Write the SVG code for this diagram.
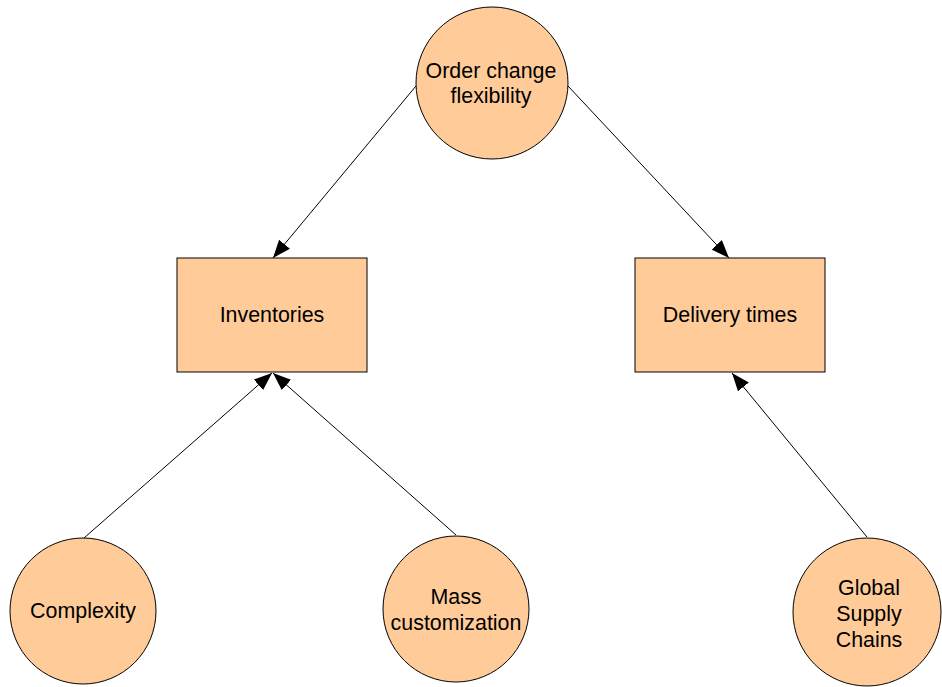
<svg xmlns="http://www.w3.org/2000/svg" width="942" height="687" viewBox="0 0 942 687">
  <style>
    .node { fill: #ffcc99; stroke: #000000; stroke-width: 1; }
    .label { font-family: "Liberation Sans", Arial, sans-serif; font-size: 21.4px; fill: #000000; text-anchor: middle; }
    .edge { stroke: #000000; stroke-width: 1; fill: none; marker-end: url(#arrow); }
  </style>
  <defs>
    <marker id="arrow" viewBox="0 0 18 14" refX="18" refY="7" markerWidth="18" markerHeight="14" markerUnits="userSpaceOnUse" orient="auto">
      <path d="M0,0 L18,7 L0,14 Z" fill="#000000"/>
    </marker>
  </defs>
  <rect width="942" height="687" fill="#ffffff"/>

  <!-- connectors -->
  <g id="connectors">
    <line class="edge" x1="416" y1="86" x2="273" y2="258"/>
    <line class="edge" x1="568" y1="86" x2="729" y2="258"/>
    <line class="edge" x1="84" y1="538" x2="272" y2="373"/>
    <line class="edge" x1="456" y1="535" x2="273" y2="373"/>
    <line class="edge" x1="867" y1="537" x2="732" y2="373"/>
  </g>

  <!-- nodes -->
  <g id="order-change-flexibility">
    <circle class="node" cx="492" cy="83" r="76"/>
    <text class="label" x="491" y="78">Order change</text>
    <text class="label" x="491" y="103">flexibility</text>
  </g>
  <g id="inventories">
    <rect class="node" x="177" y="258" width="190" height="114"/>
    <text class="label" x="272" y="322">Inventories</text>
  </g>
  <g id="delivery-times">
    <rect class="node" x="635" y="258" width="190" height="114"/>
    <text class="label" x="730" y="322">Delivery times</text>
  </g>
  <g id="complexity">
    <circle class="node" cx="83" cy="611" r="73"/>
    <text class="label" x="83" y="618">Complexity</text>
  </g>
  <g id="mass-customization">
    <circle class="node" cx="456" cy="609" r="73"/>
    <text class="label" x="456" y="604">Mass</text>
    <text class="label" x="456" y="630">customization</text>
  </g>
  <g id="global-supply-chains">
    <circle class="node" cx="867" cy="612" r="74"/>
    <text class="label" x="869" y="595">Global</text>
    <text class="label" x="869" y="621">Supply</text>
    <text class="label" x="869" y="647">Chains</text>
  </g>
</svg>
